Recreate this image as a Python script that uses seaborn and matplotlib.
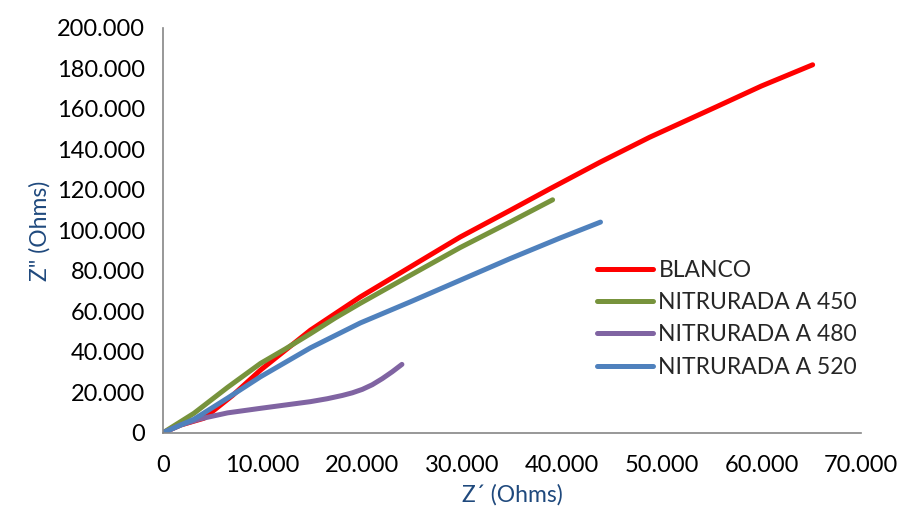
import numpy as np
import pandas as pd
import seaborn as sns
import matplotlib.pyplot as plt
from matplotlib.ticker import FuncFormatter, MultipleLocator

# Nyquist data (Z' and Z'' in ohms)
blanco_x = [0, 1800, 4130, 7000, 9800, 14800, 19800, 24800, 29800, 34800, 38800,
            43800, 48800, 55470, 60000, 65130]
blanco_y = [0, 3900, 7240, 18500, 31030, 50740, 67150, 81930, 96700, 109850, 120530,
            133600, 146000, 161000, 171300, 181770]

n450_x = [0, 3130, 6500, 9800, 12300, 14800, 17300, 19800, 24800, 29800, 34800, 39070]
n450_y = [0, 9700, 22500, 34330, 41500, 49000, 56800, 64000, 77800, 91500, 104100, 115100]

n480_x = [0, 1800, 3800, 6500, 9800, 14800, 16500, 18000, 19000, 20000, 21000,
          22000, 23000, 23970]
n480_y = [0, 3940, 7000, 9900, 12150, 15440, 16900, 18500, 19800, 21500, 23800,
          26800, 30200, 33840]

n520_x = [0, 3130, 6500, 9800, 14800, 19800, 24800, 29800, 34800, 39800, 43870]
n520_y = [0, 6750, 17200, 27730, 42000, 54300, 64690, 75370, 86040, 96200, 104100]

series = ["BLANCO", "NITRURADA A 450", "NITRURADA A 480", "NITRURADA A 520"]
colors = ["#FF0000", "#77933C", "#8064A2", "#4F81BD"]

frames = []
for name, xs, ys in zip(series,
                        [blanco_x, n450_x, n480_x, n520_x],
                        [blanco_y, n450_y, n480_y, n520_y]):
    frames.append(pd.DataFrame({"zr": xs, "zi": ys, "serie": name}))
df = pd.concat(frames, ignore_index=True)

sns.set_style("white")
plt.rcParams["font.family"] = ["Lato", "DejaVu Sans"]

fig = plt.figure(figsize=(8.99, 5.16), dpi=100)
ax = fig.add_axes([0.181, 0.161, 0.777, 0.785])

sns.lineplot(data=df, x="zr", y="zi", hue="serie", hue_order=series,
             palette=colors, sort=False, estimator=None, linewidth=3.6,
             solid_capstyle="round", solid_joinstyle="round", ax=ax)

ax.set_xlim(0, 70000)
ax.set_ylim(0, 200000)
ax.xaxis.set_major_locator(MultipleLocator(10000))
ax.yaxis.set_major_locator(MultipleLocator(20000))
fmt = FuncFormatter(lambda v, p: f"{int(round(v)):,}".replace(",", "."))
ax.xaxis.set_major_formatter(fmt)
ax.yaxis.set_major_formatter(fmt)

for side in ["top", "right"]:
    ax.spines[side].set_visible(False)
for side in ["left", "bottom"]:
    ax.spines[side].set_color("#868686")
    ax.spines[side].set_linewidth(1.2)
ax.tick_params(axis="both", which="major", direction="out", length=6,
               width=1.2, color="#868686", labelsize=17, labelcolor="black")
ax.tick_params(axis="x", pad=10)
ax.tick_params(axis="y", pad=7)

ax.set_xlabel("Z\u00b4 (Ohms)", fontsize=16.5, color="#1F497D", labelpad=6)
ax.set_ylabel("Z\" (Ohms)", fontsize=16.5, color="#1F497D", labelpad=4)

ax.legend(title=None, frameon=False, fontsize=16.5, loc="upper left",
          bbox_to_anchor=(0.622, 0.428), handlelength=2.45, handletextpad=0.22,
          labelspacing=0.5, borderaxespad=0, borderpad=0)

fig.savefig("out.png", dpi=100)
